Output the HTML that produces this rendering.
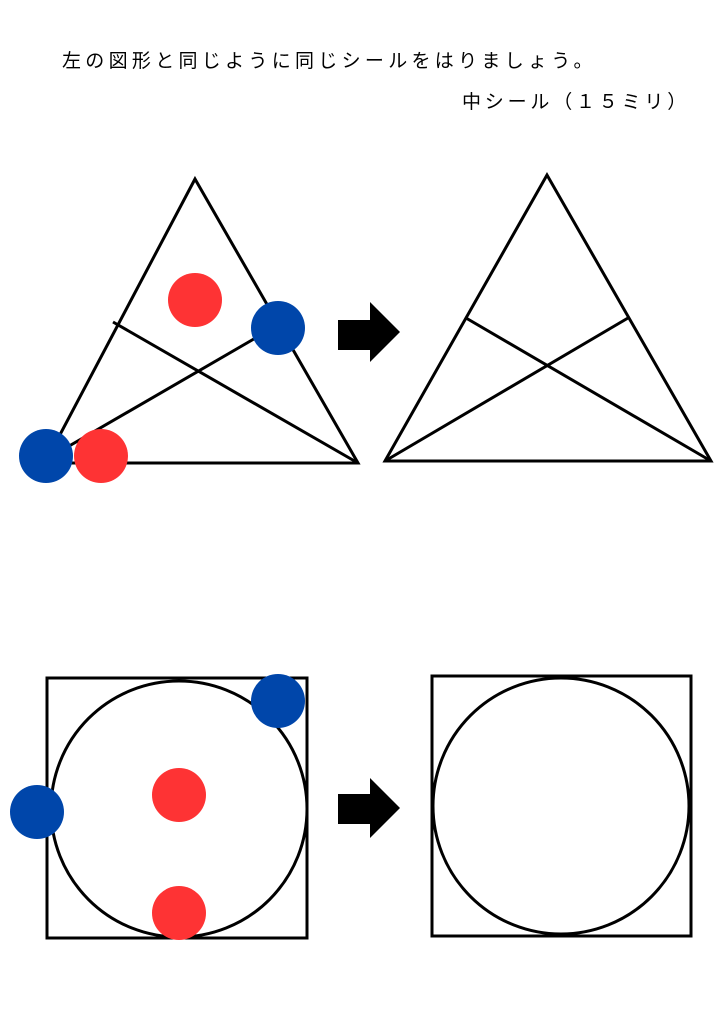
<!DOCTYPE html>
<html><head><meta charset="utf-8"><style>
body{margin:0;background:#fff;width:724px;height:1024px;overflow:hidden;}
svg{position:absolute;left:0;top:0;}
text{font-family:"Liberation Sans","Noto Sans CJK JP",sans-serif;font-size:19px;fill:#000;}
</style></head><body>
<svg width="724" height="1024" viewBox="0 0 724 1024">
<text x="62" y="67" letter-spacing="4.3">左の図形と同じように同じシールをはりましょう。</text>
<text x="462" y="108" letter-spacing="3.8">中シール（１５ミリ）</text>
<g fill="none" stroke="#000" stroke-width="3" stroke-linejoin="miter">
<polygon points="195,179 45,463 358,463"/>
<line x1="113" y1="322" x2="358" y2="463"/>
<line x1="45" y1="460" x2="278" y2="325"/>
<polygon points="547,175 385,461 711,461"/>
<line x1="466" y1="318" x2="711" y2="461"/>
<line x1="385" y1="461" x2="628" y2="318"/>
<rect x="47" y="678" width="260" height="260"/>
<ellipse cx="179" cy="809" rx="128" ry="128"/>
<rect x="432" y="676" width="259" height="260"/>
<ellipse cx="561" cy="806" rx="128" ry="128"/>
</g>
<polygon points="338,320 370,320 370,302 400,332 370,362 370,350 338,350" fill="#000"/>
<polygon points="338,794 370,794 370,778 400,808 370,838 370,824 338,824" fill="#000"/>
<circle cx="195" cy="300" r="27" fill="#fe3334"/>
<circle cx="278" cy="328" r="27" fill="#0046aa"/>
<circle cx="46" cy="456" r="27" fill="#0046aa"/>
<circle cx="101" cy="456" r="27" fill="#fe3334"/>
<circle cx="278" cy="701" r="27" fill="#0046aa"/>
<circle cx="37" cy="812" r="27" fill="#0046aa"/>
<circle cx="179" cy="795" r="27" fill="#fe3334"/>
<circle cx="179" cy="913" r="27" fill="#fe3334"/>
</svg>
</body></html>
